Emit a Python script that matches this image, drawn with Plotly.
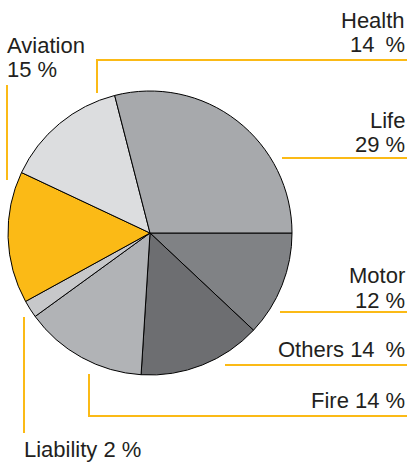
import plotly.graph_objects as go

# Data (clockwise from 3 o'clock)
categories = ["Motor", "Others", "Fire", "Liability", "Aviation", "Health", "Life"]
shares = [12, 14, 14, 2, 15, 14, 29]
slice_colors = ["#808285", "#6d6e71", "#b1b3b6", "#c7c8ca", "#fbba16", "#dcdddf", "#a7a9ac"]

W, H = 410, 463
YEL = "#fbba16"
TXT = "#231f20"
FONT = "Liberation Sans"
FS = 22

fig = go.Figure()
fig.add_trace(go.Pie(
    labels=categories, values=shares, sort=False, direction="clockwise",
    rotation=90, textinfo="none", hoverinfo="label+percent",
    marker=dict(colors=slice_colors, line=dict(color="#000000", width=1)),
    domain=dict(x=[8 / W, 292 / W], y=[1 - 375 / H, 1 - 91 / H]),
    showlegend=False,
))

label_text = {c: f"{v} %" for c, v in zip(categories, shares)}
wide_text = {c: f"{v}\u2002%" for c, v in zip(categories, shares)}

# Annotation lines: (text, x, baseline, anchor)
lines = [
    ("Aviation", 5, 53, "left"), (label_text["Aviation"], 5, 77, "left"),
    ("Health", 407, 28, "right"), (wide_text["Health"], 407, 52, "right"),
    ("Life", 407, 128, "right"), (label_text["Life"], 407, 152, "right"),
    ("Motor", 407, 283, "right"), (label_text["Motor"], 407, 308, "right"),
    ("Others " + wide_text["Others"], 407, 357, "right"),
    ("Fire " + label_text["Fire"], 407, 408, "right"),
    ("Liability " + label_text["Liability"], 22, 457, "left"),
]
for t, x, b, anc in lines:
    fig.add_annotation(x=x, y=b - 8, xref="x", yref="y", text=t, showarrow=False,
                       xanchor=anc, yanchor="middle",
                       font=dict(family=FONT, size=FS, color=TXT))

# Leader lines
paths = [
    [(7, 85), (7, 180)],                    # Aviation
    [(97, 93), (97, 60), (407, 60)],         # Health
    [(282, 158), (407, 158)],                # Life
    [(280, 312), (407, 312)],                # Motor
    [(225, 365), (407, 365)],                # Others
    [(89, 374), (89, 416), (407, 416)],      # Fire
    [(24, 317), (24, 433)],                  # Liability
]
for p in paths:
    d = "M " + " L ".join(f"{x},{y}" for x, y in p)
    fig.add_shape(type="path", path=d, xref="x", yref="y",
                  line=dict(color=YEL, width=2))

fig.update_layout(
    width=W, height=H, margin=dict(l=0, r=0, t=0, b=0),
    paper_bgcolor="white", plot_bgcolor="rgba(0,0,0,0)",
    xaxis=dict(range=[0, W], visible=False, fixedrange=True),
    yaxis=dict(range=[H, 0], visible=False, fixedrange=True),
)
fig.write_html("out.html", config={"displayModeBar": False},
               post_script="document.body.style.margin='0';document.body.style.overflow='hidden';")
